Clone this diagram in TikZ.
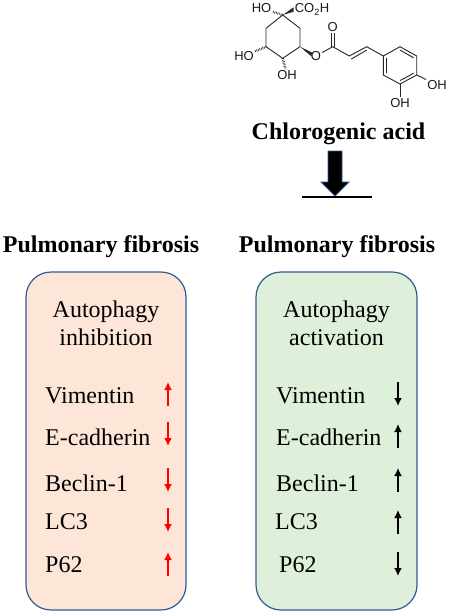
\documentclass[tikz,border=0pt]{standalone}
\usepackage{fontspec}
\setmainfont{Liberation Serif}
\newfontfamily\chemfont{Liberation Sans}
\usetikzlibrary{
  arrows.meta,
  calc
}
\definecolor{boxblue}{RGB}{47,92,150}
\definecolor{peach}{RGB}{253,230,216}
\definecolor{palegreen}{RGB}{222,240,218}
\definecolor{uparrow}{RGB}{255,0,0}
\tikzset{
  panel/.style={draw=boxblue, line width=1.2pt, rounded corners=25pt},
  heading/.style={font=\fontsize{24}{28}\selectfont\bfseries, anchor=base, inner sep=0pt},
  marker/.style={font=\fontsize{24}{28}\selectfont, anchor=base west, inner sep=0pt},
  title/.style={font=\fontsize{24}{28}\selectfont, anchor=base, inner sep=0pt},
  trend/.style={line width=1.8pt, -{Latex[length=8pt,width=8pt]}},
  bond/.style={line width=0.9pt, black!85},
  hashbond/.style={line width=2.4pt, black!85, dash pattern=on 0.6pt off 1pt},
  atom/.style={font=\chemfont\fontsize{13}{15}\selectfont, inner sep=1pt, text=black!90}
}

\begin{document}
\begin{tikzpicture}[x=1pt, y=-1pt]
  \useasboundingbox (0,0) rectangle (450,613);

  % carbon skeleton
  \coordinate (c1) at (282.7,15);
  \coordinate (c2) at (300,28.3);
  \coordinate (c3) at (300,46.7);
  \coordinate (c4) at (282.7,58.3);
  \coordinate (c5) at (266,46.7);
  \coordinate (c6) at (266,28.3);
  \coordinate (co) at (332.7,46.7);
  \coordinate (ca) at (349.3,56);
  \coordinate (cb) at (366.7,46.7);
  \coordinate (r1) at (383.3,56);
  \coordinate (r2) at (400,46.7);
  \coordinate (r3) at (416.7,56);
  \coordinate (r4) at (416.7,75);
  \coordinate (r5) at (400,84);
  \coordinate (r6) at (383.3,75);

  % atom labels
  \node[atom] (ho1) at (261.5,8) {HO};
  \node[atom] (acid) at (312,9.5) {CO\textsubscript{2}H};
  \node[atom] (ho2) at (244,56) {HO};
  \node[atom] (oh1) at (287,75) {OH};
  \node[atom] (oe) at (316,56) {O};
  \node[atom] (ok) at (332.7,27) {O};
  \node[atom] (oh2) at (437,85) {OH};
  \node[atom] (oh3) at (400,103) {OH};

  % bonds
  \draw[bond] (c1) -- (c2) -- (c3) -- (c4) -- (c5) -- (c6) -- cycle;
  \draw[bond] (oe) -- (co) -- (ca);
  \draw[bond] (ca) -- (cb) -- (r1);
  \draw[bond] ($(ca)+(2,3)$) -- ($(cb)+(0,3.4)$);
  \draw[bond] ($(co)+(-1.5,0)$) -- ($(ok.south)+(-1.5,0)$);
  \draw[bond] ($(co)+(1.5,0)$) -- ($(ok.south)+(1.5,0)$);
  \draw[bond] (r1) -- (r2) -- (r3) -- (r4) -- (r5) -- (r6) -- cycle;
  \draw[bond] ($(r2)+(0,3.4)$) -- ($(r3)+(-3,1.8)$);
  \draw[bond] ($(r4)+(-3,-1.8)$) -- ($(r5)+(0,-3.4)$);
  \draw[bond] ($(r6)+(3,-2)$) -- ($(r1)+(3,2)$);
  \draw[bond] (r4) -- (oh2);
  \draw[bond] (r5) -- (oh3);
  \fill[black!85] (c1) -- ($(acid.west)+(0,-2.2)$) -- ($(acid.west)+(0,2.2)$) -- cycle;
  \fill[black!85] (c3) -- ($(oe)+(-3,-3)$) -- ($(oe)+(-5,0)$) -- cycle;
  \draw[hashbond] (c1) -- (ho1);
  \draw[hashbond] (c5) -- (ho2);
  \draw[hashbond] (c4) -- (oh1);

  \node[heading] (name) at (338.5,139.3) {Chlorogenic acid};

  % block arrow onto the bar
  \coordinate (barl) at (302,197);
  \coordinate (barr) at (372,197);
  \draw[draw=boxblue, fill=black, line width=0.8pt] (328,151) -- (342,151) -- (342,182) -- (349,182) -- (335,196) -- (321,182) -- (328,182) -- cycle;
  \draw[line width=2pt] (barl) -- (barr);

  \node[heading] (headl) at (101,252) {Pulmonary fibrosis};
  \node[heading] (headr) at (337,252) {Pulmonary fibrosis};

  \draw[panel, fill=peach] (26,272) rectangle (186,610);
  \draw[panel, fill=palegreen] (256,272) rectangle (417,610);

  \node[title] (inhibit1) at (106,317) {Autophagy};
  \node[title] (inhibit2) at (106,345.5) {inhibition};
  \node[title] (activ1) at (336.5,317) {Autophagy};
  \node[title] (activ2) at (336.5,345.5) {activation};

  % left markers
  \foreach \nm/\txt/\yy in {vim/Vimentin/403, ecad/E-cadherin/445, bec/Beclin-1/491, lc/LC3/529, pp/P62/572}
    \node[marker] (\nm l) at (45,\yy) {\txt};
  % right markers
  \foreach \nm/\txt/\xx/\yy in {vim/Vimentin/276/403, ecad/E-cadherin/276/445, bec/Beclin-1/276/491, lc/LC3/275/529, pp/P62/279/572}
    \node[marker] (\nm r) at (\xx,\yy) {\txt};

  % trend arrows, tail then head
  \foreach \nm/\ya/\yb in {vim/406/382, ecad/422/446, bec/468/492, lc/508/532, pp/576/552} {
    \coordinate (\nm la) at (168,\ya);
    \coordinate (\nm lb) at (168,\yb);
    \draw[trend, uparrow] (\nm la) -- (\nm lb);
  }
  \foreach \nm/\ya/\yb in {vim/382/406, ecad/448/424, bec/492/468, lc/534/510, pp/552/576} {
    \coordinate (\nm ra) at (398,\ya);
    \coordinate (\nm rb) at (398,\yb);
    \draw[trend, black] (\nm ra) -- (\nm rb);
  }
\end{tikzpicture}
\end{document}
